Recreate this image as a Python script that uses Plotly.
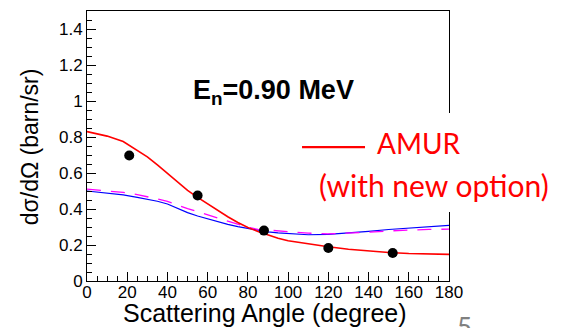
import plotly.graph_objects as go

# Data points (measured)
pt_angle = [21, 55, 88, 120, 152]
pt_xs = [0.697, 0.475, 0.280, 0.183, 0.156]

# Curves
curve_angle = [0, 10, 18, 25, 30, 35, 40, 45, 50, 55, 60, 65, 70, 75, 80, 85, 90, 95, 100, 110, 120, 130, 140, 150, 160, 170, 180]
red_vals = [0.830, 0.805, 0.775, 0.727, 0.690, 0.645, 0.597, 0.547, 0.503, 0.465, 0.428, 0.392, 0.357, 0.325, 0.297, 0.275, 0.255, 0.237, 0.224, 0.205, 0.190, 0.176, 0.166, 0.158, 0.153, 0.150, 0.148]
blue_vals = [0.500, 0.490, 0.478, 0.465, 0.455, 0.443, 0.428, 0.403, 0.380, 0.361, 0.345, 0.330, 0.315, 0.302, 0.291, 0.281, 0.273, 0.267, 0.263, 0.257, 0.259, 0.266, 0.276, 0.286, 0.295, 0.302, 0.309]
mag_vals = [0.510, 0.500, 0.492, 0.480, 0.470, 0.456, 0.442, 0.420, 0.402, 0.385, 0.368, 0.350, 0.332, 0.314, 0.298, 0.287, 0.282, 0.278, 0.275, 0.266, 0.262, 0.265, 0.271, 0.278, 0.284, 0.287, 0.288]

x_ticks = [0, 20, 40, 60, 80, 100, 120, 140, 160, 180]
y_ticks = [0, 0.2, 0.4, 0.6, 0.8, 1.0, 1.2, 1.4]
y_ticktext = ["0", "0.2", "0.4", "0.6", "0.8", "1", "1.2", "1.4"]

fig = go.Figure()
fig.add_trace(go.Scatter(x=curve_angle, y=blue_vals, mode="lines",
                         line=dict(color="#0000ff", width=1.2), showlegend=False))
fig.add_trace(go.Scatter(x=curve_angle, y=mag_vals, mode="lines",
                         line=dict(color="#ff00ff", width=1.3, dash="14px,10px"), showlegend=False))
fig.add_trace(go.Scatter(x=curve_angle, y=red_vals, mode="lines",
                         line=dict(color="#ff0000", width=1.6), showlegend=False))
fig.add_trace(go.Scatter(x=pt_angle, y=pt_xs, mode="markers",
                         marker=dict(color="black", size=10), showlegend=False))

tickfont = dict(family="Liberation Sans, Arial", size=17, color="black")
fig.update_xaxes(range=[0, 180], tickvals=x_ticks, ticks="inside", ticklen=9,
                 tickcolor="black", showline=True, linecolor="black", linewidth=1,
                 mirror=True, showgrid=False, zeroline=False, tickfont=tickfont,
                 ticklabelstandoff=-4,
                 minor=dict(dtick=5, ticks="inside", ticklen=5, tickcolor="black", showgrid=False))
fig.update_yaxes(range=[0, 1.5], tickvals=y_ticks, ticktext=y_ticktext, ticks="inside", ticklen=9,
                 tickcolor="black", showline=True, linecolor="black", linewidth=1,
                 mirror=True, showgrid=False, zeroline=False, tickfont=tickfont,
                 minor=dict(dtick=0.05, ticks="inside", ticklen=5, tickcolor="black", showgrid=False))

# white box behind AMUR label
fig.add_shape(type="rect", xref="paper", yref="paper", x0=0.561, x1=1.33, y0=0.256, y1=0.622,
              fillcolor="white", line=dict(width=0), layer="above")
fig.add_shape(type="line", xref="paper", yref="paper", x0=0.594, x1=0.768, y0=0.496, y1=0.496,
              line=dict(color="#ff0000", width=2.3), layer="above")

calib = "Lato, Open Sans, sans-serif"
fig.add_annotation(text="AMUR", xref="paper", yref="paper", x=0.795, y=0.511,
                   xanchor="left", yanchor="middle", showarrow=False,
                   font=dict(family=calib, size=28, color="#ff0000"))
fig.add_annotation(text="(with new option)", xref="paper", yref="paper", x=0.635, y=0.356,
                   xanchor="left", yanchor="middle", showarrow=False,
                   font=dict(family=calib, size=30, color="#ff0000"))
fig.add_annotation(text="<b>E<sub>n</sub>=0.90 MeV</b>", xref="paper", yref="paper", x=0.514, y=0.70,
                   xanchor="center", yanchor="middle", showarrow=False,
                   font=dict(family="Liberation Sans, Arial", size=27, color="black"))
fig.add_annotation(text="Scattering Angle (degree)", xref="paper", yref="paper", x=0.4917, y=-0.1185,
                   xanchor="center", yanchor="middle", showarrow=False,
                   font=dict(family="Liberation Sans, Arial", size=25, color="black"))
fig.add_annotation(text="dσ/dΩ (barn/sr)", xref="paper", yref="paper", x=-0.157, y=0.496,
                   xanchor="center", yanchor="middle", textangle=-90, showarrow=False,
                   font=dict(family="Liberation Sans, Arial", size=23, color="black"))
fig.add_annotation(text="5", xref="paper", yref="paper", x=1.044, y=-0.105,
                   xanchor="center", yanchor="top", showarrow=False,
                   font=dict(family=calib, size=26, color="#808080"))

fig.update_layout(width=566, height=328, margin=dict(l=87, r=117, t=11, b=47),
                  plot_bgcolor="white", paper_bgcolor="white")
fig.write_html("out.html")
